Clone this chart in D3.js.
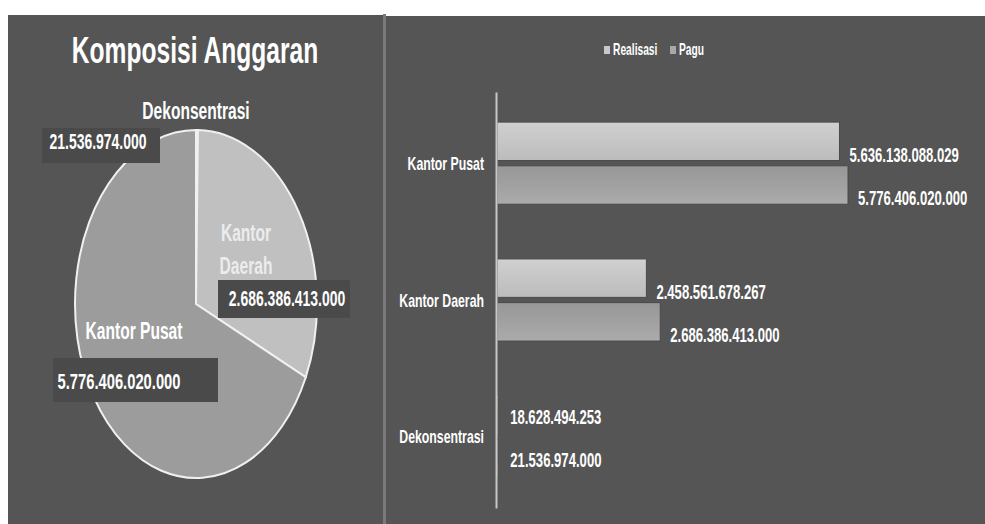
<!DOCTYPE html>
<html>
<head>
<meta charset="utf-8">
<script src="https://cdn.jsdelivr.net/npm/d3@7"></script>
<style>
html, body { margin: 0; padding: 0; background: #fff; }
svg { display: block; }
text { font-family: "Liberation Sans", Arial, sans-serif; font-weight: bold; fill: #fff; }
</style>
</head>
<body>
<svg width="985" height="524"></svg>
<script>
// bar chart data
const categories = ["Kantor Pusat", "Kantor Daerah", "Dekonsentrasi"];
const seriesNames = ["Realisasi", "Pagu"];
const realisasi = [5636138088029, 2458561678267, 18628494253];
const pagu = [5776406020000, 2686386413000, 21536974000];

// pie data (pagu per unit)
const pieCategories = ["Dekonsentrasi", "Kantor Daerah", "Kantor Pusat"];
const pieValues = [21536974000, 2686386413000, 5776406020000];

const title = "Komposisi Anggaran";

const idr = d3.formatLocale({ decimal: ",", thousands: ".", grouping: [3], currency: ["Rp", ""] }).format(",d");

const svg = d3.select("svg");

// the source picture is squashed horizontally, so text is too
const SX = 0.82, SY = 1.25;
function label(parent, x, y, str, size, anchor, color) {
    const g = parent.append("g").attr("transform", `translate(${x},${y}) scale(${SX},${SY})`);
    g.append("text")
        .attr("text-anchor", anchor || "middle")
        .attr("dominant-baseline", "central")
        .style("font-size", size + "px")
        .style("fill", color || "#fff")
        .text(str);
    return g;
}

// panels
svg.append("rect").attr("x", 8).attr("y", 15).attr("width", 376).attr("height", 509).attr("fill", "#555");
svg.append("rect").attr("x", 384).attr("y", 16).attr("width", 601).attr("height", 508).attr("fill", "#555");
svg.append("line").attr("x1", 384.5).attr("x2", 384.5).attr("y1", 14).attr("y2", 524)
    .attr("stroke", "#7a7a7a").attr("stroke-width", 3);

// ---------- pie ----------
label(svg, 195, 50, title, 30);

const pieColors = { "Dekonsentrasi": "#8c8c8c", "Kantor Daerah": "#c0c0c0", "Kantor Pusat": "#9c9c9c" };
const R = 100;
const pieData = d3.pie().sort(null).value(d => d)(pieValues);
const arc = d3.arc().innerRadius(0).outerRadius(R);

const pieG = svg.append("g").attr("transform", `translate(196,304) scale(${121 / R},${174 / R})`);
pieG.selectAll("path")
    .data(pieData)
    .join("path")
    .attr("d", arc)
    .attr("fill", (d, i) => pieColors[pieCategories[i]])
    .attr("stroke", "#f0f0f0")
    .attr("stroke-width", 2)
    .attr("vector-effect", "non-scaling-stroke");

// label placement copied from the dragged excel labels
const pieLabelLayout = {
    "Dekonsentrasi": { lines: [["Dekonsentrasi", 196, 111]], value: [98, 142], vsize: 17, box: [42, 128, 118, 35] },
    "Kantor Daerah": { lines: [["Kantor", 246, 233], ["Daerah", 246, 266]], value: [287, 299], vsize: 17, box: [218, 280, 132, 38], color: "#ececec" },
    "Kantor Pusat": { lines: [["Kantor Pusat", 134, 331]], value: [119, 381], vsize: 18, box: [53, 358, 165, 44] }
};

pieCategories.forEach((c, i) => {
    const l = pieLabelLayout[c];
    svg.append("rect").attr("x", l.box[0]).attr("y", l.box[1]).attr("width", l.box[2]).attr("height", l.box[3])
        .attr("fill", "#4a4a4a");
    l.lines.forEach(t => label(svg, t[1], t[2], t[0], 19, "middle", l.color));
    label(svg, l.value[0], l.value[1], idr(pieValues[i]), l.vsize);
});

// ---------- bars ----------
const x = d3.scaleLinear().domain([0, d3.max(pagu)]).range([497, 848]);
const y0 = d3.scaleBand().domain(categories).range([92, 508]).paddingInner(0.4).paddingOuter(0.22);
const y1 = d3.scaleBand().domain(seriesNames).range([0, y0.bandwidth()]).paddingInner(0.12);

const defs = svg.append("defs");
const grads = { "Realisasi": ["#d0d0d0", "#bcbcbc"], "Pagu": ["#979797", "#ababab"] };
seriesNames.forEach(s => {
    const g = defs.append("linearGradient").attr("id", "g-" + s).attr("x1", 0).attr("x2", 0).attr("y1", 0).attr("y2", 1);
    g.append("stop").attr("offset", "0%").attr("stop-color", grads[s][0]);
    g.append("stop").attr("offset", "100%").attr("stop-color", grads[s][1]);
});

const rows = [];
categories.forEach((c, i) => {
    rows.push({ cat: c, series: "Realisasi", value: realisasi[i] });
    rows.push({ cat: c, series: "Pagu", value: pagu[i] });
});

svg.append("g").selectAll("rect")
    .data(rows)
    .join("rect")
    .attr("x", x(0))
    .attr("y", d => y0(d.cat) + y1(d.series))
    .attr("width", d => x(d.value) - x(0))
    .attr("height", y1.bandwidth())
    .attr("fill", d => `url(#g-${d.series})`)
    .attr("stroke", "#4a4a4a")
    .attr("stroke-width", 1);

rows.forEach(d => {
    const w = x(d.value) - x(0);
    const yc = y0(d.cat) + y1(d.series) + y1.bandwidth() / 2 + (w > 20 ? 14 : 2);
    label(svg, x(d.value) + (w > 20 ? 10 : 12), yc, idr(d.value), 16, "start");
});

const axis = svg.append("g").attr("transform", "translate(496,0)")
    .call(d3.axisLeft(y0).tickSize(0).tickSizeOuter(0));
axis.select(".domain").attr("stroke", "#c8c8c8").attr("stroke-width", 2);
axis.selectAll(".tick text")
    .attr("x", -12 / SX)
    .attr("dy", null)
    .attr("dominant-baseline", "central")
    .attr("transform", `scale(${SX},${SY})`)
    .attr("font-family", null)
    .attr("font-size", null)
    .style("font-size", "15px")
    .style("fill", "#fff");

// legend
const legendColors = { "Realisasi": "#c8c8c8", "Pagu": "#a8a8a8" };
const legendX = { "Realisasi": 604, "Pagu": 670 };
seriesNames.forEach(s => {
    svg.append("rect").attr("x", legendX[s]).attr("y", 46).attr("width", 6).attr("height", 8)
        .attr("fill", legendColors[s]);
    label(svg, legendX[s] + 9, 50, s, 12.5, "start");
});
</script>
</body>
</html>
